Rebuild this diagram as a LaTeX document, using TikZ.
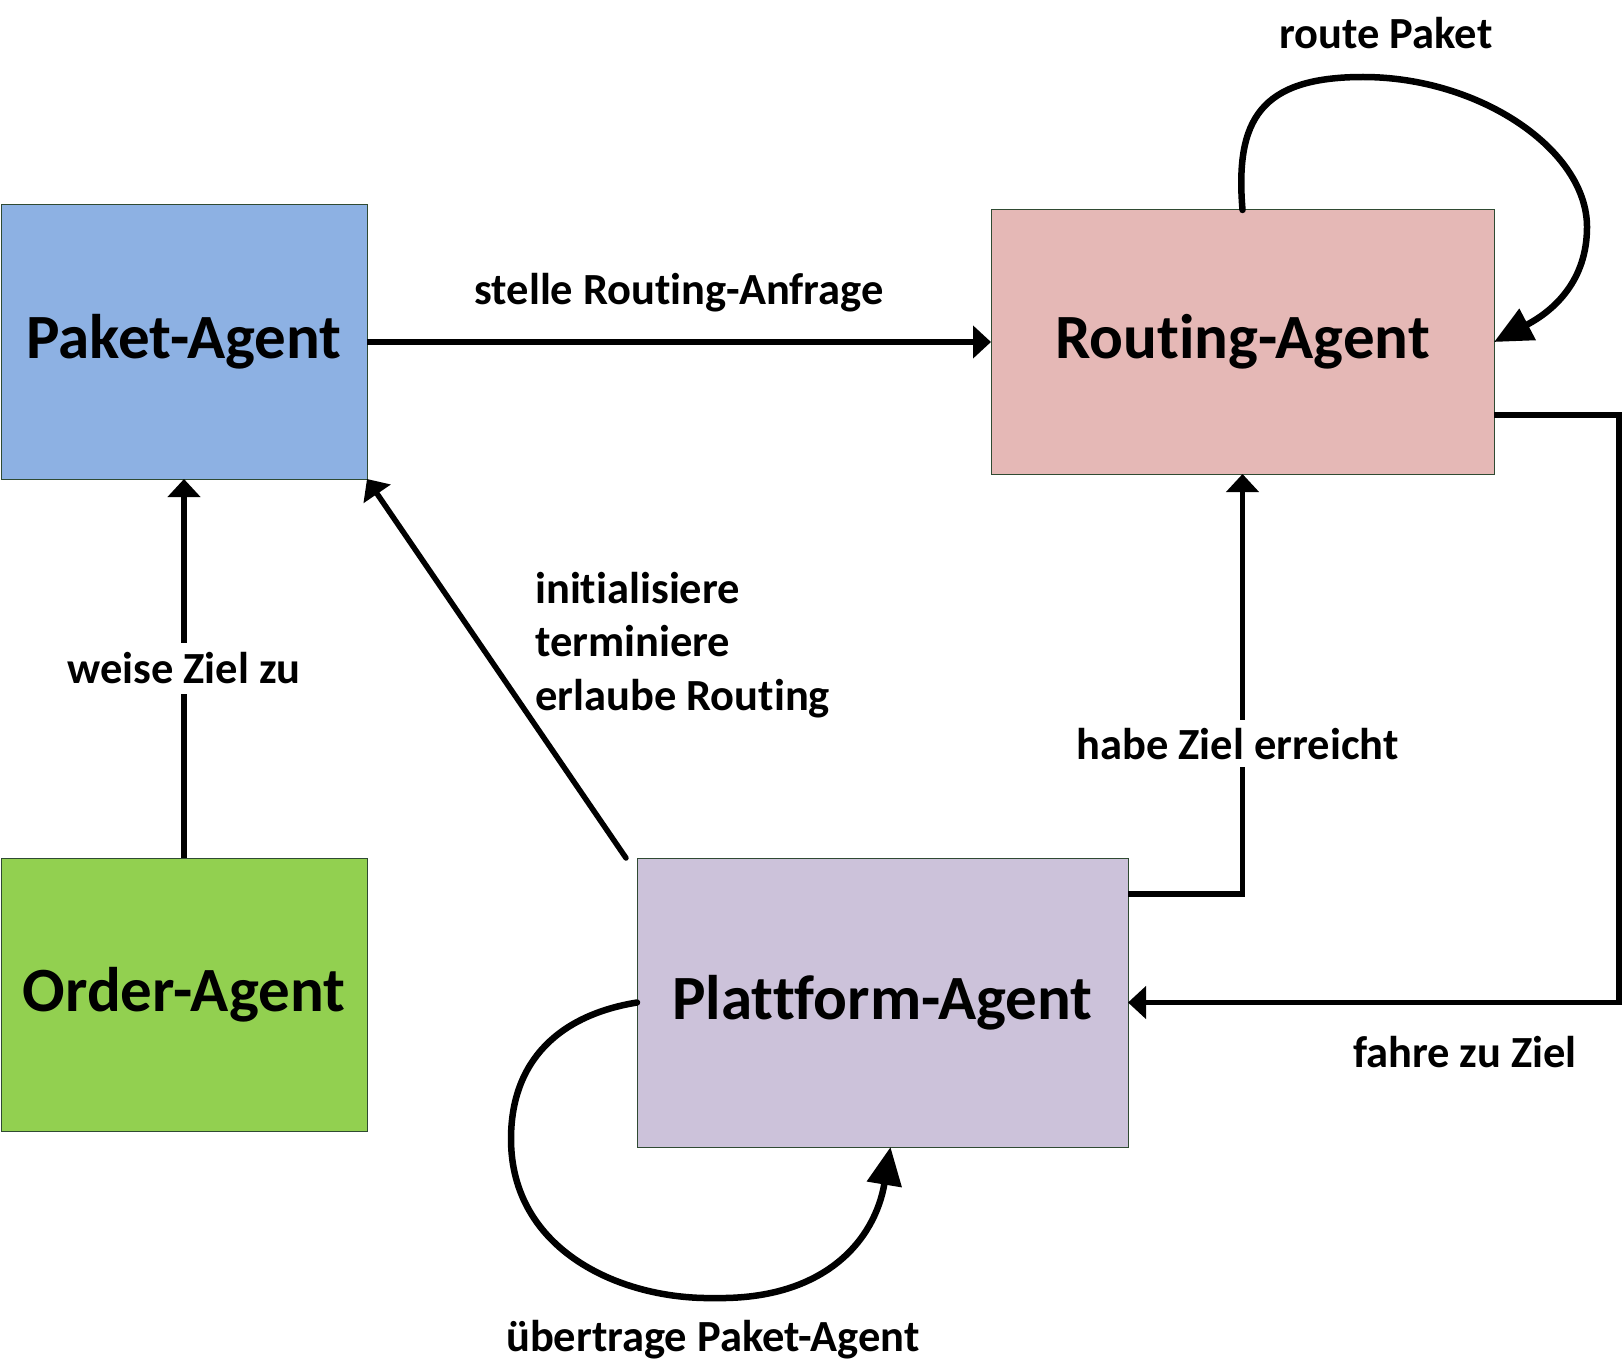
\documentclass[tikz,border=0pt]{standalone}
\usepackage{fontspec}
\setmainfont{Carlito}[Ligatures=NoCommon]
\usetikzlibrary{arrows.meta,calc}
\definecolor{cPaket}{HTML}{8DB1E3}
\definecolor{cRouting}{HTML}{E5B8B6}
\definecolor{cOrder}{HTML}{92D050}
\definecolor{cPlatt}{HTML}{CCC2DA}
\definecolor{cBorder}{HTML}{2F4A32}
\tikzset{
  agent/.style={draw=cBorder, line width=1pt, inner sep=0pt, outer sep=0pt,
    font=\bfseries\fontsize{63}{70}\selectfont},
  lbl/.style={font=\bfseries\fontsize{44.5}{53.5}\selectfont, inner sep=0pt},
  conn/.style={line width=5.5pt, -{Triangle[length=18pt,width=32pt]}},
  loopconn/.style={line width=6.5pt, line cap=round, -{Triangle[length=38pt,width=34pt]}},
}
\begin{document}
\begin{tikzpicture}[x=1pt,y=-1pt]
\useasboundingbox[fill=white] (0,0) rectangle (1624,1364);
\node[agent, fill=cPaket, minimum width=366pt, minimum height=274pt] (paket) at (184,342) {Paket-Agent};
\node[agent, fill=cRouting, minimum width=503pt, minimum height=264pt] (routing) at (1242.5,342) {Routing-Agent};
\node[agent, fill=cOrder, minimum width=366pt, minimum height=273pt] (order) at (184,994.5) {Order-Agent};
\node[agent, fill=cPlatt, minimum width=491pt, minimum height=289pt] (platt) at (882.5,1002.5) {Plattform-Agent};

% Paket -> Routing
\draw[conn] (paket.east) -- node[lbl, above=27pt] {stelle Routing-Anfrage} (routing.west);
% Order -> Paket
\draw[conn] (order.north) -- node[lbl, fill=white, inner ysep=10pt, inner xsep=4pt] {weise Ziel zu} (paket.south);
% Plattform -> Paket
\coordinate (pstart) at ($(platt.north west)+(-11,0)$);
\draw[conn, line cap=round] (pstart) -- (paket.south east);
\node[lbl, align=left, anchor=north west] (initlbl) at (535,572) {initialisiere\\terminiere\\erlaube Routing};
% Plattform -> Routing
\coordinate (hstart) at ($(platt.north east)+(0,36)$);
\draw[conn] (hstart) -| node[lbl, fill=white, inner ysep=8pt, pos=0.679, xshift=-5pt] {habe Ziel erreicht} (routing.south);
% Routing -> Plattform
\coordinate (fstart) at ($(routing.east)+(0,73)$);
\coordinate (fcorner) at (1619,1002.5);
\draw[conn] (fstart) -| (fcorner) -- (platt.east);
\node[lbl] (fahrelbl) at (1465,1052) {fahre zu Ziel};
% Routing self loop
\draw[loopconn] (routing.north) .. controls (1235,120) and (1260,77) .. (1363,77)
  .. controls (1480,77) and (1587,150) .. (1587,227)
  .. controls (1587,280) and (1555,310) .. (routing.east);
\node[lbl] (routelbl) at (1386,33) {route Paket};
% Plattform self loop
\draw[loopconn] (platt.west) .. controls (560,1015) and (511,1060) .. (511,1139)
  .. controls (511,1250) and (620,1300) .. (715,1298)
  .. controls (825,1300) and (875,1240) .. ([xshift=8pt]platt.south);
\node[lbl] (uebertlbl) at (713,1340) {übertrage Paket-Agent};
\end{tikzpicture}
\end{document}
